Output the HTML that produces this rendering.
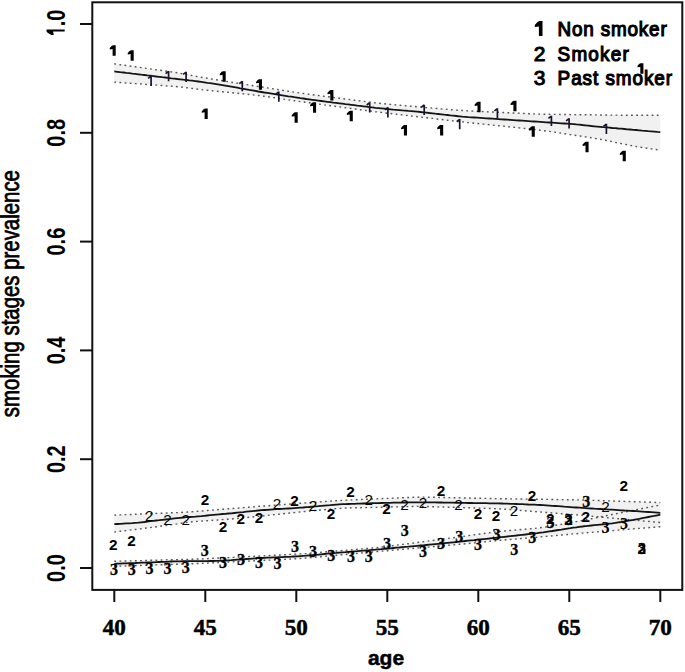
<!DOCTYPE html>
<html><head><meta charset="utf-8"><style>
html,body{margin:0;padding:0;background:#fff;}
svg{display:block;}
.s{font-family:"Liberation Sans",sans-serif;}
.k{stroke:#000;stroke-width:0.3px;paint-order:stroke fill;}
.k2{stroke:#000;stroke-width:0.8px;paint-order:stroke fill;}
.r{font-family:"Liberation Serif",serif;}
</style></head><body>
<svg width="685" height="672" viewBox="0 0 685 672">
<rect x="0" y="0" width="685" height="672" fill="#fff"/>

<polygon points="114.3,63.8 117.3,64.3 120.3,64.7 123.3,65.1 126.3,65.5 129.3,66.0 132.3,66.4 135.3,66.8 138.3,67.2 141.3,67.6 144.3,68.1 147.3,68.5 150.3,68.9 153.3,69.3 156.3,69.8 159.3,70.2 162.3,70.6 165.3,71.0 168.3,71.5 171.3,71.9 174.3,72.3 177.3,72.8 180.3,73.3 183.3,73.9 186.3,74.4 189.3,75.0 192.3,75.6 195.3,76.2 198.3,76.8 201.3,77.3 204.3,77.8 207.3,78.3 210.3,78.8 213.3,79.3 216.3,79.8 219.3,80.3 222.3,80.7 225.3,81.2 228.3,81.7 231.3,82.2 234.3,82.7 237.3,83.1 240.3,83.6 243.3,84.1 246.3,84.6 249.3,85.0 252.3,85.5 255.3,86.0 258.3,86.5 261.3,86.9 264.3,87.4 267.3,87.9 270.3,88.4 273.3,88.9 276.3,89.3 279.3,89.8 282.3,90.3 285.3,90.8 288.3,91.2 291.3,91.7 294.3,92.2 297.3,92.6 300.3,93.1 303.3,93.5 306.3,93.9 309.3,94.3 312.3,94.7 315.3,95.1 318.3,95.5 321.3,95.9 324.3,96.3 327.3,96.6 330.3,97.0 333.3,97.4 336.3,97.8 339.3,98.2 342.3,98.6 345.3,99.0 348.3,99.4 351.3,99.8 354.3,100.2 357.3,100.5 360.3,100.9 363.3,101.3 366.3,101.7 369.3,102.1 372.3,102.5 375.3,102.9 378.3,103.2 381.3,103.5 384.3,103.8 387.3,104.1 390.3,104.4 393.3,104.7 396.3,104.9 399.3,105.2 402.3,105.5 405.3,105.7 408.3,106.0 411.3,106.2 414.3,106.5 417.3,106.8 420.3,107.0 423.3,107.3 426.3,107.6 429.3,107.8 432.3,108.1 435.3,108.3 438.3,108.6 441.3,108.9 444.3,109.1 447.3,109.4 450.3,109.7 453.3,109.9 456.3,110.1 459.3,110.3 462.3,110.5 465.3,110.7 468.3,110.9 471.3,111.0 474.3,111.2 477.3,111.3 480.3,111.4 483.3,111.6 486.3,111.7 489.3,111.9 492.3,112.0 495.3,112.1 498.3,112.3 501.3,112.4 504.3,112.5 507.3,112.7 510.3,112.8 513.3,113.0 516.3,113.1 519.3,113.2 522.3,113.4 525.3,113.5 528.3,113.7 531.3,113.8 534.3,113.9 537.3,114.0 540.3,114.1 543.3,114.2 546.3,114.3 549.3,114.3 552.3,114.4 555.3,114.4 558.3,114.4 561.3,114.5 564.3,114.5 567.3,114.5 570.3,114.6 573.3,114.6 576.3,114.7 579.3,114.7 582.3,114.7 585.3,114.8 588.3,114.8 591.3,114.8 594.3,114.9 597.3,114.9 600.3,115.0 603.3,115.0 606.3,115.0 609.3,115.1 612.3,115.1 615.3,115.1 618.3,115.2 621.3,115.2 624.3,115.2 627.3,115.2 630.3,115.2 633.3,115.2 636.3,115.2 639.3,115.2 642.3,115.3 645.3,115.3 648.3,115.3 651.3,115.3 654.3,115.3 657.3,115.3 660.3,115.3 660.3,150.2 657.3,149.8 654.3,149.3 651.3,148.9 648.3,148.4 645.3,148.0 642.3,147.5 639.3,147.0 636.3,146.5 633.3,145.9 630.3,145.4 627.3,144.8 624.3,144.2 621.3,143.6 618.3,143.0 615.3,142.4 612.3,141.7 609.3,141.1 606.3,140.5 603.3,139.9 600.3,139.3 597.3,138.8 594.3,138.3 591.3,137.8 588.3,137.3 585.3,136.9 582.3,136.4 579.3,135.9 576.3,135.5 573.3,135.0 570.3,134.6 567.3,134.1 564.3,133.7 561.3,133.2 558.3,132.7 555.3,132.3 552.3,131.8 549.3,131.4 546.3,131.0 543.3,130.6 540.3,130.2 537.3,129.8 534.3,129.4 531.3,129.1 528.3,128.8 525.3,128.5 522.3,128.2 519.3,127.9 516.3,127.5 513.3,127.2 510.3,126.9 507.3,126.6 504.3,126.3 501.3,126.0 498.3,125.7 495.3,125.4 492.3,125.1 489.3,124.7 486.3,124.4 483.3,124.1 480.3,123.8 477.3,123.5 474.3,123.2 471.3,122.9 468.3,122.6 465.3,122.2 462.3,121.9 459.3,121.6 456.3,121.3 453.3,120.9 450.3,120.6 447.3,120.2 444.3,119.9 441.3,119.5 438.3,119.2 435.3,118.8 432.3,118.4 429.3,118.1 426.3,117.7 423.3,117.4 420.3,117.0 417.3,116.7 414.3,116.3 411.3,116.0 408.3,115.6 405.3,115.3 402.3,114.9 399.3,114.6 396.3,114.2 393.3,113.9 390.3,113.5 387.3,113.2 384.3,112.8 381.3,112.4 378.3,112.0 375.3,111.7 372.3,111.3 369.3,110.9 366.3,110.5 363.3,110.1 360.3,109.7 357.3,109.3 354.3,108.9 351.3,108.5 348.3,108.1 345.3,107.7 342.3,107.3 339.3,106.9 336.3,106.5 333.3,106.1 330.3,105.7 327.3,105.3 324.3,104.9 321.3,104.4 318.3,104.0 315.3,103.6 312.3,103.2 309.3,102.8 306.3,102.4 303.3,102.0 300.3,101.6 297.3,101.2 294.3,100.7 291.3,100.3 288.3,99.8 285.3,99.4 282.3,98.9 279.3,98.5 276.3,98.0 273.3,97.6 270.3,97.1 267.3,96.7 264.3,96.3 261.3,95.9 258.3,95.5 255.3,95.2 252.3,94.8 249.3,94.5 246.3,94.2 243.3,93.9 240.3,93.6 237.3,93.3 234.3,93.0 231.3,92.7 228.3,92.4 225.3,92.1 222.3,91.8 219.3,91.5 216.3,91.2 213.3,90.9 210.3,90.6 207.3,90.3 204.3,90.0 201.3,89.6 198.3,89.3 195.3,88.9 192.3,88.5 189.3,88.1 186.3,87.7 183.3,87.3 180.3,87.0 177.3,86.7 174.3,86.4 171.3,86.2 168.3,86.0 165.3,85.8 162.3,85.5 159.3,85.3 156.3,85.1 153.3,84.9 150.3,84.7 147.3,84.5 144.3,84.3 141.3,84.0 138.3,83.8 135.3,83.6 132.3,83.4 129.3,83.2 126.3,83.0 123.3,82.8 120.3,82.5 117.3,82.3 114.3,82.1" fill="#f1f1f1" stroke="none"/>
<polygon points="114.3,515.1 117.3,515.0 120.3,514.9 123.3,514.7 126.3,514.6 129.3,514.5 132.3,514.4 135.3,514.3 138.3,514.1 141.3,514.0 144.3,513.9 147.3,513.8 150.3,513.7 153.3,513.6 156.3,513.4 159.3,513.3 162.3,513.2 165.3,513.1 168.3,513.0 171.3,512.8 174.3,512.7 177.3,512.6 180.3,512.5 183.3,512.3 186.3,512.1 189.3,511.9 192.3,511.7 195.3,511.5 198.3,511.2 201.3,511.0 204.3,510.8 207.3,510.5 210.3,510.3 213.3,510.0 216.3,509.8 219.3,509.6 222.3,509.3 225.3,509.1 228.3,508.8 231.3,508.6 234.3,508.4 237.3,508.1 240.3,507.9 243.3,507.6 246.3,507.4 249.3,507.2 252.3,506.9 255.3,506.7 258.3,506.4 261.3,506.2 264.3,506.0 267.3,505.8 270.3,505.5 273.3,505.3 276.3,505.1 279.3,504.9 282.3,504.7 285.3,504.4 288.3,504.2 291.3,504.0 294.3,503.8 297.3,503.5 300.3,503.3 303.3,503.1 306.3,502.9 309.3,502.7 312.3,502.4 315.3,502.2 318.3,502.0 321.3,501.8 324.3,501.6 327.3,501.3 330.3,501.1 333.3,500.9 336.3,500.7 339.3,500.5 342.3,500.4 345.3,500.2 348.3,500.1 351.3,499.9 354.3,499.8 357.3,499.7 360.3,499.5 363.3,499.4 366.3,499.3 369.3,499.2 372.3,499.0 375.3,498.9 378.3,498.8 381.3,498.6 384.3,498.5 387.3,498.4 390.3,498.3 393.3,498.1 396.3,498.0 399.3,497.9 402.3,497.8 405.3,497.6 408.3,497.5 411.3,497.4 414.3,497.3 417.3,497.2 420.3,497.2 423.3,497.1 426.3,497.2 429.3,497.2 432.3,497.3 435.3,497.3 438.3,497.4 441.3,497.5 444.3,497.5 447.3,497.6 450.3,497.6 453.3,497.7 456.3,497.8 459.3,497.8 462.3,497.9 465.3,498.0 468.3,498.0 471.3,498.1 474.3,498.2 477.3,498.2 480.3,498.3 483.3,498.3 486.3,498.4 489.3,498.5 492.3,498.5 495.3,498.6 498.3,498.7 501.3,498.7 504.3,498.8 507.3,498.8 510.3,498.9 513.3,498.9 516.3,498.9 519.3,499.0 522.3,499.0 525.3,499.1 528.3,499.1 531.3,499.2 534.3,499.2 537.3,499.3 540.3,499.3 543.3,499.3 546.3,499.4 549.3,499.4 552.3,499.5 555.3,499.5 558.3,499.6 561.3,499.6 564.3,499.7 567.3,499.7 570.3,499.8 573.3,499.8 576.3,499.9 579.3,499.9 582.3,500.0 585.3,500.1 588.3,500.2 591.3,500.3 594.3,500.4 597.3,500.5 600.3,500.6 603.3,500.7 606.3,500.8 609.3,500.9 612.3,501.0 615.3,501.1 618.3,501.2 621.3,501.3 624.3,501.4 627.3,501.5 630.3,501.6 633.3,501.7 636.3,501.8 639.3,501.9 642.3,502.0 645.3,502.1 648.3,502.2 651.3,502.3 654.3,502.4 657.3,502.5 660.3,502.6 660.3,522.5 657.3,522.2 654.3,522.0 651.3,521.7 648.3,521.4 645.3,521.2 642.3,520.9 639.3,520.6 636.3,520.3 633.3,520.1 630.3,519.8 627.3,519.5 624.3,519.2 621.3,519.0 618.3,518.7 615.3,518.4 612.3,518.1 609.3,517.9 606.3,517.6 603.3,517.3 600.3,517.1 597.3,516.8 594.3,516.5 591.3,516.2 588.3,516.0 585.3,515.7 582.3,515.4 579.3,515.2 576.3,514.9 573.3,514.7 570.3,514.4 567.3,514.2 564.3,513.9 561.3,513.7 558.3,513.5 555.3,513.2 552.3,513.0 549.3,512.7 546.3,512.5 543.3,512.3 540.3,512.0 537.3,511.8 534.3,511.5 531.3,511.3 528.3,511.1 525.3,510.8 522.3,510.6 519.3,510.3 516.3,510.1 513.3,509.9 510.3,509.6 507.3,509.4 504.3,509.2 501.3,509.0 498.3,508.8 495.3,508.7 492.3,508.6 489.3,508.5 486.3,508.4 483.3,508.3 480.3,508.2 477.3,508.1 474.3,508.0 471.3,507.9 468.3,507.8 465.3,507.7 462.3,507.6 459.3,507.5 456.3,507.4 453.3,507.3 450.3,507.2 447.3,507.2 444.3,507.1 441.3,507.0 438.3,506.9 435.3,506.8 432.3,506.7 429.3,506.6 426.3,506.5 423.3,506.5 420.3,506.4 417.3,506.4 414.3,506.5 411.3,506.5 408.3,506.6 405.3,506.6 402.3,506.7 399.3,506.8 396.3,506.9 393.3,506.9 390.3,507.0 387.3,507.1 384.3,507.1 381.3,507.2 378.3,507.3 375.3,507.4 372.3,507.4 369.3,507.5 366.3,507.6 363.3,507.6 360.3,507.7 357.3,507.8 354.3,507.9 351.3,507.9 348.3,508.0 345.3,508.1 342.3,508.3 339.3,508.4 336.3,508.6 333.3,508.9 330.3,509.1 327.3,509.4 324.3,509.7 321.3,510.0 318.3,510.3 315.3,510.5 312.3,510.8 309.3,511.1 306.3,511.4 303.3,511.7 300.3,512.0 297.3,512.3 294.3,512.6 291.3,512.9 288.3,513.2 285.3,513.5 282.3,513.9 279.3,514.2 276.3,514.5 273.3,514.8 270.3,515.1 267.3,515.4 264.3,515.7 261.3,516.1 258.3,516.4 255.3,516.7 252.3,517.0 249.3,517.3 246.3,517.6 243.3,517.9 240.3,518.2 237.3,518.5 234.3,518.7 231.3,519.0 228.3,519.2 225.3,519.4 222.3,519.6 219.3,519.9 216.3,520.1 213.3,520.3 210.3,520.5 207.3,520.7 204.3,520.9 201.3,521.1 198.3,521.3 195.3,521.5 192.3,521.8 189.3,522.1 186.3,522.5 183.3,522.9 180.3,523.4 177.3,523.9 174.3,524.3 171.3,524.8 168.3,525.2 165.3,525.6 162.3,526.0 159.3,526.4 156.3,526.8 153.3,527.2 150.3,527.6 147.3,528.0 144.3,528.3 141.3,528.7 138.3,529.1 135.3,529.5 132.3,529.8 129.3,530.2 126.3,530.6 123.3,530.9 120.3,531.3 117.3,531.7 114.3,532.1" fill="#f1f1f1" stroke="none"/>
<polygon points="114.3,561.3 117.3,561.2 120.3,561.1 123.3,561.1 126.3,561.0 129.3,560.9 132.3,560.8 135.3,560.7 138.3,560.7 141.3,560.6 144.3,560.5 147.3,560.4 150.3,560.3 153.3,560.2 156.3,560.2 159.3,560.1 162.3,560.0 165.3,559.9 168.3,559.8 171.3,559.8 174.3,559.7 177.3,559.6 180.3,559.5 183.3,559.4 186.3,559.4 189.3,559.3 192.3,559.2 195.3,559.1 198.3,559.0 201.3,558.9 204.3,558.8 207.3,558.6 210.3,558.5 213.3,558.3 216.3,558.2 219.3,558.0 222.3,557.9 225.3,557.7 228.3,557.6 231.3,557.4 234.3,557.3 237.3,557.1 240.3,557.0 243.3,556.8 246.3,556.7 249.3,556.5 252.3,556.4 255.3,556.2 258.3,556.1 261.3,555.9 264.3,555.8 267.3,555.6 270.3,555.5 273.3,555.3 276.3,555.2 279.3,555.0 282.3,554.9 285.3,554.7 288.3,554.6 291.3,554.4 294.3,554.3 297.3,554.1 300.3,553.9 303.3,553.7 306.3,553.5 309.3,553.2 312.3,553.0 315.3,552.7 318.3,552.5 321.3,552.2 324.3,552.0 327.3,551.7 330.3,551.5 333.3,551.3 336.3,551.0 339.3,550.8 342.3,550.5 345.3,550.3 348.3,550.0 351.3,549.8 354.3,549.5 357.3,549.3 360.3,549.0 363.3,548.8 366.3,548.5 369.3,548.3 372.3,548.0 375.3,547.7 378.3,547.4 381.3,547.1 384.3,546.8 387.3,546.4 390.3,546.0 393.3,545.6 396.3,545.2 399.3,544.8 402.3,544.4 405.3,544.0 408.3,543.7 411.3,543.3 414.3,542.9 417.3,542.5 420.3,542.1 423.3,541.7 426.3,541.3 429.3,540.9 432.3,540.5 435.3,540.1 438.3,539.7 441.3,539.3 444.3,538.9 447.3,538.5 450.3,538.1 453.3,537.7 456.3,537.3 459.3,536.9 462.3,536.5 465.3,536.1 468.3,535.7 471.3,535.2 474.3,534.8 477.3,534.4 480.3,534.0 483.3,533.6 486.3,533.2 489.3,532.8 492.3,532.4 495.3,532.0 498.3,531.6 501.3,531.3 504.3,531.0 507.3,530.7 510.3,530.5 513.3,530.2 516.3,530.0 519.3,529.7 522.3,529.5 525.3,529.2 528.3,529.0 531.3,528.7 534.3,528.4 537.3,528.1 540.3,527.7 543.3,527.3 546.3,526.9 549.3,526.4 552.3,525.8 555.3,525.3 558.3,524.8 561.3,524.3 564.3,523.7 567.3,523.2 570.3,522.7 573.3,522.2 576.3,521.6 579.3,521.1 582.3,520.5 585.3,519.9 588.3,519.3 591.3,518.7 594.3,518.1 597.3,517.5 600.3,516.9 603.3,516.3 606.3,515.7 609.3,515.1 612.3,514.5 615.3,513.9 618.3,513.3 621.3,512.7 624.3,512.1 627.3,511.5 630.3,510.9 633.3,510.3 636.3,509.7 639.3,509.1 642.3,508.5 645.3,507.9 648.3,507.3 651.3,506.7 654.3,506.2 657.3,505.6 660.3,505.0 660.3,526.7 657.3,526.9 654.3,527.2 651.3,527.4 648.3,527.7 645.3,527.9 642.3,528.2 639.3,528.4 636.3,528.7 633.3,528.9 630.3,529.2 627.3,529.4 624.3,529.6 621.3,529.9 618.3,530.1 615.3,530.4 612.3,530.6 609.3,530.9 606.3,531.1 603.3,531.4 600.3,531.6 597.3,531.9 594.3,532.1 591.3,532.4 588.3,532.6 585.3,532.9 582.3,533.1 579.3,533.4 576.3,533.7 573.3,533.9 570.3,534.2 567.3,534.5 564.3,534.8 561.3,535.0 558.3,535.3 555.3,535.6 552.3,535.9 549.3,536.1 546.3,536.4 543.3,536.7 540.3,536.9 537.3,537.2 534.3,537.5 531.3,537.7 528.3,538.0 525.3,538.2 522.3,538.5 519.3,538.7 516.3,539.0 513.3,539.2 510.3,539.5 507.3,539.7 504.3,540.0 501.3,540.2 498.3,540.5 495.3,540.8 492.3,541.1 489.3,541.4 486.3,541.7 483.3,542.0 480.3,542.3 477.3,542.6 474.3,542.9 471.3,543.2 468.3,543.5 465.3,543.8 462.3,544.1 459.3,544.3 456.3,544.6 453.3,544.9 450.3,545.1 447.3,545.4 444.3,545.7 441.3,545.9 438.3,546.2 435.3,546.5 432.3,546.7 429.3,547.0 426.3,547.2 423.3,547.5 420.3,547.8 417.3,548.0 414.3,548.3 411.3,548.6 408.3,548.8 405.3,549.1 402.3,549.3 399.3,549.6 396.3,549.9 393.3,550.1 390.3,550.4 387.3,550.7 384.3,550.9 381.3,551.2 378.3,551.5 375.3,551.7 372.3,552.0 369.3,552.3 366.3,552.6 363.3,552.8 360.3,553.1 357.3,553.4 354.3,553.6 351.3,553.9 348.3,554.2 345.3,554.5 342.3,554.7 339.3,555.0 336.3,555.3 333.3,555.6 330.3,555.8 327.3,556.1 324.3,556.4 321.3,556.7 318.3,556.9 315.3,557.2 312.3,557.5 309.3,557.8 306.3,558.0 303.3,558.2 300.3,558.5 297.3,558.7 294.3,558.9 291.3,559.0 288.3,559.2 285.3,559.3 282.3,559.5 279.3,559.6 276.3,559.8 273.3,559.9 270.3,560.1 267.3,560.2 264.3,560.3 261.3,560.5 258.3,560.6 255.3,560.8 252.3,560.9 249.3,561.1 246.3,561.2 243.3,561.4 240.3,561.5 237.3,561.7 234.3,561.8 231.3,562.0 228.3,562.1 225.3,562.3 222.3,562.4 219.3,562.6 216.3,562.7 213.3,562.8 210.3,563.0 207.3,563.1 204.3,563.3 201.3,563.4 198.3,563.5 195.3,563.6 192.3,563.7 189.3,563.8 186.3,563.9 183.3,564.0 180.3,564.1 177.3,564.2 174.3,564.3 171.3,564.4 168.3,564.5 165.3,564.6 162.3,564.7 159.3,564.8 156.3,564.9 153.3,565.0 150.3,565.1 147.3,565.2 144.3,565.3 141.3,565.4 138.3,565.5 135.3,565.6 132.3,565.7 129.3,565.8 126.3,565.9 123.3,566.0 120.3,566.1 117.3,566.2 114.3,566.3" fill="#f1f1f1" stroke="none"/>
<polyline points="114.3,63.8 117.3,64.3 120.3,64.7 123.3,65.1 126.3,65.5 129.3,66.0 132.3,66.4 135.3,66.8 138.3,67.2 141.3,67.6 144.3,68.1 147.3,68.5 150.3,68.9 153.3,69.3 156.3,69.8 159.3,70.2 162.3,70.6 165.3,71.0 168.3,71.5 171.3,71.9 174.3,72.3 177.3,72.8 180.3,73.3 183.3,73.9 186.3,74.4 189.3,75.0 192.3,75.6 195.3,76.2 198.3,76.8 201.3,77.3 204.3,77.8 207.3,78.3 210.3,78.8 213.3,79.3 216.3,79.8 219.3,80.3 222.3,80.7 225.3,81.2 228.3,81.7 231.3,82.2 234.3,82.7 237.3,83.1 240.3,83.6 243.3,84.1 246.3,84.6 249.3,85.0 252.3,85.5 255.3,86.0 258.3,86.5 261.3,86.9 264.3,87.4 267.3,87.9 270.3,88.4 273.3,88.9 276.3,89.3 279.3,89.8 282.3,90.3 285.3,90.8 288.3,91.2 291.3,91.7 294.3,92.2 297.3,92.6 300.3,93.1 303.3,93.5 306.3,93.9 309.3,94.3 312.3,94.7 315.3,95.1 318.3,95.5 321.3,95.9 324.3,96.3 327.3,96.6 330.3,97.0 333.3,97.4 336.3,97.8 339.3,98.2 342.3,98.6 345.3,99.0 348.3,99.4 351.3,99.8 354.3,100.2 357.3,100.5 360.3,100.9 363.3,101.3 366.3,101.7 369.3,102.1 372.3,102.5 375.3,102.9 378.3,103.2 381.3,103.5 384.3,103.8 387.3,104.1 390.3,104.4 393.3,104.7 396.3,104.9 399.3,105.2 402.3,105.5 405.3,105.7 408.3,106.0 411.3,106.2 414.3,106.5 417.3,106.8 420.3,107.0 423.3,107.3 426.3,107.6 429.3,107.8 432.3,108.1 435.3,108.3 438.3,108.6 441.3,108.9 444.3,109.1 447.3,109.4 450.3,109.7 453.3,109.9 456.3,110.1 459.3,110.3 462.3,110.5 465.3,110.7 468.3,110.9 471.3,111.0 474.3,111.2 477.3,111.3 480.3,111.4 483.3,111.6 486.3,111.7 489.3,111.9 492.3,112.0 495.3,112.1 498.3,112.3 501.3,112.4 504.3,112.5 507.3,112.7 510.3,112.8 513.3,113.0 516.3,113.1 519.3,113.2 522.3,113.4 525.3,113.5 528.3,113.7 531.3,113.8 534.3,113.9 537.3,114.0 540.3,114.1 543.3,114.2 546.3,114.3 549.3,114.3 552.3,114.4 555.3,114.4 558.3,114.4 561.3,114.5 564.3,114.5 567.3,114.5 570.3,114.6 573.3,114.6 576.3,114.7 579.3,114.7 582.3,114.7 585.3,114.8 588.3,114.8 591.3,114.8 594.3,114.9 597.3,114.9 600.3,115.0 603.3,115.0 606.3,115.0 609.3,115.1 612.3,115.1 615.3,115.1 618.3,115.2 621.3,115.2 624.3,115.2 627.3,115.2 630.3,115.2 633.3,115.2 636.3,115.2 639.3,115.2 642.3,115.3 645.3,115.3 648.3,115.3 651.3,115.3 654.3,115.3 657.3,115.3 660.3,115.3" fill="none" stroke="#555" stroke-width="1.4" stroke-dasharray="1.8 3.35"/>
<polyline points="114.3,82.1 117.3,82.3 120.3,82.5 123.3,82.8 126.3,83.0 129.3,83.2 132.3,83.4 135.3,83.6 138.3,83.8 141.3,84.0 144.3,84.3 147.3,84.5 150.3,84.7 153.3,84.9 156.3,85.1 159.3,85.3 162.3,85.5 165.3,85.8 168.3,86.0 171.3,86.2 174.3,86.4 177.3,86.7 180.3,87.0 183.3,87.3 186.3,87.7 189.3,88.1 192.3,88.5 195.3,88.9 198.3,89.3 201.3,89.6 204.3,90.0 207.3,90.3 210.3,90.6 213.3,90.9 216.3,91.2 219.3,91.5 222.3,91.8 225.3,92.1 228.3,92.4 231.3,92.7 234.3,93.0 237.3,93.3 240.3,93.6 243.3,93.9 246.3,94.2 249.3,94.5 252.3,94.8 255.3,95.2 258.3,95.5 261.3,95.9 264.3,96.3 267.3,96.7 270.3,97.1 273.3,97.6 276.3,98.0 279.3,98.5 282.3,98.9 285.3,99.4 288.3,99.8 291.3,100.3 294.3,100.7 297.3,101.2 300.3,101.6 303.3,102.0 306.3,102.4 309.3,102.8 312.3,103.2 315.3,103.6 318.3,104.0 321.3,104.4 324.3,104.9 327.3,105.3 330.3,105.7 333.3,106.1 336.3,106.5 339.3,106.9 342.3,107.3 345.3,107.7 348.3,108.1 351.3,108.5 354.3,108.9 357.3,109.3 360.3,109.7 363.3,110.1 366.3,110.5 369.3,110.9 372.3,111.3 375.3,111.7 378.3,112.0 381.3,112.4 384.3,112.8 387.3,113.2 390.3,113.5 393.3,113.9 396.3,114.2 399.3,114.6 402.3,114.9 405.3,115.3 408.3,115.6 411.3,116.0 414.3,116.3 417.3,116.7 420.3,117.0 423.3,117.4 426.3,117.7 429.3,118.1 432.3,118.4 435.3,118.8 438.3,119.2 441.3,119.5 444.3,119.9 447.3,120.2 450.3,120.6 453.3,120.9 456.3,121.3 459.3,121.6 462.3,121.9 465.3,122.2 468.3,122.6 471.3,122.9 474.3,123.2 477.3,123.5 480.3,123.8 483.3,124.1 486.3,124.4 489.3,124.7 492.3,125.1 495.3,125.4 498.3,125.7 501.3,126.0 504.3,126.3 507.3,126.6 510.3,126.9 513.3,127.2 516.3,127.5 519.3,127.9 522.3,128.2 525.3,128.5 528.3,128.8 531.3,129.1 534.3,129.4 537.3,129.8 540.3,130.2 543.3,130.6 546.3,131.0 549.3,131.4 552.3,131.8 555.3,132.3 558.3,132.7 561.3,133.2 564.3,133.7 567.3,134.1 570.3,134.6 573.3,135.0 576.3,135.5 579.3,135.9 582.3,136.4 585.3,136.9 588.3,137.3 591.3,137.8 594.3,138.3 597.3,138.8 600.3,139.3 603.3,139.9 606.3,140.5 609.3,141.1 612.3,141.7 615.3,142.4 618.3,143.0 621.3,143.6 624.3,144.2 627.3,144.8 630.3,145.4 633.3,145.9 636.3,146.5 639.3,147.0 642.3,147.5 645.3,148.0 648.3,148.4 651.3,148.9 654.3,149.3 657.3,149.8 660.3,150.2" fill="none" stroke="#555" stroke-width="1.4" stroke-dasharray="1.8 3.35"/>
<polyline points="114.3,515.1 117.3,515.0 120.3,514.9 123.3,514.7 126.3,514.6 129.3,514.5 132.3,514.4 135.3,514.3 138.3,514.1 141.3,514.0 144.3,513.9 147.3,513.8 150.3,513.7 153.3,513.6 156.3,513.4 159.3,513.3 162.3,513.2 165.3,513.1 168.3,513.0 171.3,512.8 174.3,512.7 177.3,512.6 180.3,512.5 183.3,512.3 186.3,512.1 189.3,511.9 192.3,511.7 195.3,511.5 198.3,511.2 201.3,511.0 204.3,510.8 207.3,510.5 210.3,510.3 213.3,510.0 216.3,509.8 219.3,509.6 222.3,509.3 225.3,509.1 228.3,508.8 231.3,508.6 234.3,508.4 237.3,508.1 240.3,507.9 243.3,507.6 246.3,507.4 249.3,507.2 252.3,506.9 255.3,506.7 258.3,506.4 261.3,506.2 264.3,506.0 267.3,505.8 270.3,505.5 273.3,505.3 276.3,505.1 279.3,504.9 282.3,504.7 285.3,504.4 288.3,504.2 291.3,504.0 294.3,503.8 297.3,503.5 300.3,503.3 303.3,503.1 306.3,502.9 309.3,502.7 312.3,502.4 315.3,502.2 318.3,502.0 321.3,501.8 324.3,501.6 327.3,501.3 330.3,501.1 333.3,500.9 336.3,500.7 339.3,500.5 342.3,500.4 345.3,500.2 348.3,500.1 351.3,499.9 354.3,499.8 357.3,499.7 360.3,499.5 363.3,499.4 366.3,499.3 369.3,499.2 372.3,499.0 375.3,498.9 378.3,498.8 381.3,498.6 384.3,498.5 387.3,498.4 390.3,498.3 393.3,498.1 396.3,498.0 399.3,497.9 402.3,497.8 405.3,497.6 408.3,497.5 411.3,497.4 414.3,497.3 417.3,497.2 420.3,497.2 423.3,497.1 426.3,497.2 429.3,497.2 432.3,497.3 435.3,497.3 438.3,497.4 441.3,497.5 444.3,497.5 447.3,497.6 450.3,497.6 453.3,497.7 456.3,497.8 459.3,497.8 462.3,497.9 465.3,498.0 468.3,498.0 471.3,498.1 474.3,498.2 477.3,498.2 480.3,498.3 483.3,498.3 486.3,498.4 489.3,498.5 492.3,498.5 495.3,498.6 498.3,498.7 501.3,498.7 504.3,498.8 507.3,498.8 510.3,498.9 513.3,498.9 516.3,498.9 519.3,499.0 522.3,499.0 525.3,499.1 528.3,499.1 531.3,499.2 534.3,499.2 537.3,499.3 540.3,499.3 543.3,499.3 546.3,499.4 549.3,499.4 552.3,499.5 555.3,499.5 558.3,499.6 561.3,499.6 564.3,499.7 567.3,499.7 570.3,499.8 573.3,499.8 576.3,499.9 579.3,499.9 582.3,500.0 585.3,500.1 588.3,500.2 591.3,500.3 594.3,500.4 597.3,500.5 600.3,500.6 603.3,500.7 606.3,500.8 609.3,500.9 612.3,501.0 615.3,501.1 618.3,501.2 621.3,501.3 624.3,501.4 627.3,501.5 630.3,501.6 633.3,501.7 636.3,501.8 639.3,501.9 642.3,502.0 645.3,502.1 648.3,502.2 651.3,502.3 654.3,502.4 657.3,502.5 660.3,502.6" fill="none" stroke="#555" stroke-width="1.4" stroke-dasharray="1.8 3.35"/>
<polyline points="114.3,532.1 117.3,531.7 120.3,531.3 123.3,530.9 126.3,530.6 129.3,530.2 132.3,529.8 135.3,529.5 138.3,529.1 141.3,528.7 144.3,528.3 147.3,528.0 150.3,527.6 153.3,527.2 156.3,526.8 159.3,526.4 162.3,526.0 165.3,525.6 168.3,525.2 171.3,524.8 174.3,524.3 177.3,523.9 180.3,523.4 183.3,522.9 186.3,522.5 189.3,522.1 192.3,521.8 195.3,521.5 198.3,521.3 201.3,521.1 204.3,520.9 207.3,520.7 210.3,520.5 213.3,520.3 216.3,520.1 219.3,519.9 222.3,519.6 225.3,519.4 228.3,519.2 231.3,519.0 234.3,518.7 237.3,518.5 240.3,518.2 243.3,517.9 246.3,517.6 249.3,517.3 252.3,517.0 255.3,516.7 258.3,516.4 261.3,516.1 264.3,515.7 267.3,515.4 270.3,515.1 273.3,514.8 276.3,514.5 279.3,514.2 282.3,513.9 285.3,513.5 288.3,513.2 291.3,512.9 294.3,512.6 297.3,512.3 300.3,512.0 303.3,511.7 306.3,511.4 309.3,511.1 312.3,510.8 315.3,510.5 318.3,510.3 321.3,510.0 324.3,509.7 327.3,509.4 330.3,509.1 333.3,508.9 336.3,508.6 339.3,508.4 342.3,508.3 345.3,508.1 348.3,508.0 351.3,507.9 354.3,507.9 357.3,507.8 360.3,507.7 363.3,507.6 366.3,507.6 369.3,507.5 372.3,507.4 375.3,507.4 378.3,507.3 381.3,507.2 384.3,507.1 387.3,507.1 390.3,507.0 393.3,506.9 396.3,506.9 399.3,506.8 402.3,506.7 405.3,506.6 408.3,506.6 411.3,506.5 414.3,506.5 417.3,506.4 420.3,506.4 423.3,506.5 426.3,506.5 429.3,506.6 432.3,506.7 435.3,506.8 438.3,506.9 441.3,507.0 444.3,507.1 447.3,507.2 450.3,507.2 453.3,507.3 456.3,507.4 459.3,507.5 462.3,507.6 465.3,507.7 468.3,507.8 471.3,507.9 474.3,508.0 477.3,508.1 480.3,508.2 483.3,508.3 486.3,508.4 489.3,508.5 492.3,508.6 495.3,508.7 498.3,508.8 501.3,509.0 504.3,509.2 507.3,509.4 510.3,509.6 513.3,509.9 516.3,510.1 519.3,510.3 522.3,510.6 525.3,510.8 528.3,511.1 531.3,511.3 534.3,511.5 537.3,511.8 540.3,512.0 543.3,512.3 546.3,512.5 549.3,512.7 552.3,513.0 555.3,513.2 558.3,513.5 561.3,513.7 564.3,513.9 567.3,514.2 570.3,514.4 573.3,514.7 576.3,514.9 579.3,515.2 582.3,515.4 585.3,515.7 588.3,516.0 591.3,516.2 594.3,516.5 597.3,516.8 600.3,517.1 603.3,517.3 606.3,517.6 609.3,517.9 612.3,518.1 615.3,518.4 618.3,518.7 621.3,519.0 624.3,519.2 627.3,519.5 630.3,519.8 633.3,520.1 636.3,520.3 639.3,520.6 642.3,520.9 645.3,521.2 648.3,521.4 651.3,521.7 654.3,522.0 657.3,522.2 660.3,522.5" fill="none" stroke="#555" stroke-width="1.4" stroke-dasharray="1.8 3.35"/>
<polyline points="114.3,561.3 117.3,561.2 120.3,561.1 123.3,561.1 126.3,561.0 129.3,560.9 132.3,560.8 135.3,560.7 138.3,560.7 141.3,560.6 144.3,560.5 147.3,560.4 150.3,560.3 153.3,560.2 156.3,560.2 159.3,560.1 162.3,560.0 165.3,559.9 168.3,559.8 171.3,559.8 174.3,559.7 177.3,559.6 180.3,559.5 183.3,559.4 186.3,559.4 189.3,559.3 192.3,559.2 195.3,559.1 198.3,559.0 201.3,558.9 204.3,558.8 207.3,558.6 210.3,558.5 213.3,558.3 216.3,558.2 219.3,558.0 222.3,557.9 225.3,557.7 228.3,557.6 231.3,557.4 234.3,557.3 237.3,557.1 240.3,557.0 243.3,556.8 246.3,556.7 249.3,556.5 252.3,556.4 255.3,556.2 258.3,556.1 261.3,555.9 264.3,555.8 267.3,555.6 270.3,555.5 273.3,555.3 276.3,555.2 279.3,555.0 282.3,554.9 285.3,554.7 288.3,554.6 291.3,554.4 294.3,554.3 297.3,554.1 300.3,553.9 303.3,553.7 306.3,553.5 309.3,553.2 312.3,553.0 315.3,552.7 318.3,552.5 321.3,552.2 324.3,552.0 327.3,551.7 330.3,551.5 333.3,551.3 336.3,551.0 339.3,550.8 342.3,550.5 345.3,550.3 348.3,550.0 351.3,549.8 354.3,549.5 357.3,549.3 360.3,549.0 363.3,548.8 366.3,548.5 369.3,548.3 372.3,548.0 375.3,547.7 378.3,547.4 381.3,547.1 384.3,546.8 387.3,546.4 390.3,546.0 393.3,545.6 396.3,545.2 399.3,544.8 402.3,544.4 405.3,544.0 408.3,543.7 411.3,543.3 414.3,542.9 417.3,542.5 420.3,542.1 423.3,541.7 426.3,541.3 429.3,540.9 432.3,540.5 435.3,540.1 438.3,539.7 441.3,539.3 444.3,538.9 447.3,538.5 450.3,538.1 453.3,537.7 456.3,537.3 459.3,536.9 462.3,536.5 465.3,536.1 468.3,535.7 471.3,535.2 474.3,534.8 477.3,534.4 480.3,534.0 483.3,533.6 486.3,533.2 489.3,532.8 492.3,532.4 495.3,532.0 498.3,531.6 501.3,531.3 504.3,531.0 507.3,530.7 510.3,530.5 513.3,530.2 516.3,530.0 519.3,529.7 522.3,529.5 525.3,529.2 528.3,529.0 531.3,528.7 534.3,528.4 537.3,528.1 540.3,527.7 543.3,527.3 546.3,526.9 549.3,526.4 552.3,525.8 555.3,525.3 558.3,524.8 561.3,524.3 564.3,523.7 567.3,523.2 570.3,522.7 573.3,522.2 576.3,521.6 579.3,521.1 582.3,520.5 585.3,519.9 588.3,519.3 591.3,518.7 594.3,518.1 597.3,517.5 600.3,516.9 603.3,516.3 606.3,515.7 609.3,515.1 612.3,514.5 615.3,513.9 618.3,513.3 621.3,512.7 624.3,512.1 627.3,511.5 630.3,510.9 633.3,510.3 636.3,509.7 639.3,509.1 642.3,508.5 645.3,507.9 648.3,507.3 651.3,506.7 654.3,506.2 657.3,505.6 660.3,505.0" fill="none" stroke="#555" stroke-width="1.4" stroke-dasharray="1.8 3.35"/>
<polyline points="114.3,566.3 117.3,566.2 120.3,566.1 123.3,566.0 126.3,565.9 129.3,565.8 132.3,565.7 135.3,565.6 138.3,565.5 141.3,565.4 144.3,565.3 147.3,565.2 150.3,565.1 153.3,565.0 156.3,564.9 159.3,564.8 162.3,564.7 165.3,564.6 168.3,564.5 171.3,564.4 174.3,564.3 177.3,564.2 180.3,564.1 183.3,564.0 186.3,563.9 189.3,563.8 192.3,563.7 195.3,563.6 198.3,563.5 201.3,563.4 204.3,563.3 207.3,563.1 210.3,563.0 213.3,562.8 216.3,562.7 219.3,562.6 222.3,562.4 225.3,562.3 228.3,562.1 231.3,562.0 234.3,561.8 237.3,561.7 240.3,561.5 243.3,561.4 246.3,561.2 249.3,561.1 252.3,560.9 255.3,560.8 258.3,560.6 261.3,560.5 264.3,560.3 267.3,560.2 270.3,560.1 273.3,559.9 276.3,559.8 279.3,559.6 282.3,559.5 285.3,559.3 288.3,559.2 291.3,559.0 294.3,558.9 297.3,558.7 300.3,558.5 303.3,558.2 306.3,558.0 309.3,557.8 312.3,557.5 315.3,557.2 318.3,556.9 321.3,556.7 324.3,556.4 327.3,556.1 330.3,555.8 333.3,555.6 336.3,555.3 339.3,555.0 342.3,554.7 345.3,554.5 348.3,554.2 351.3,553.9 354.3,553.6 357.3,553.4 360.3,553.1 363.3,552.8 366.3,552.6 369.3,552.3 372.3,552.0 375.3,551.7 378.3,551.5 381.3,551.2 384.3,550.9 387.3,550.7 390.3,550.4 393.3,550.1 396.3,549.9 399.3,549.6 402.3,549.3 405.3,549.1 408.3,548.8 411.3,548.6 414.3,548.3 417.3,548.0 420.3,547.8 423.3,547.5 426.3,547.2 429.3,547.0 432.3,546.7 435.3,546.5 438.3,546.2 441.3,545.9 444.3,545.7 447.3,545.4 450.3,545.1 453.3,544.9 456.3,544.6 459.3,544.3 462.3,544.1 465.3,543.8 468.3,543.5 471.3,543.2 474.3,542.9 477.3,542.6 480.3,542.3 483.3,542.0 486.3,541.7 489.3,541.4 492.3,541.1 495.3,540.8 498.3,540.5 501.3,540.2 504.3,540.0 507.3,539.7 510.3,539.5 513.3,539.2 516.3,539.0 519.3,538.7 522.3,538.5 525.3,538.2 528.3,538.0 531.3,537.7 534.3,537.5 537.3,537.2 540.3,536.9 543.3,536.7 546.3,536.4 549.3,536.1 552.3,535.9 555.3,535.6 558.3,535.3 561.3,535.0 564.3,534.8 567.3,534.5 570.3,534.2 573.3,533.9 576.3,533.7 579.3,533.4 582.3,533.1 585.3,532.9 588.3,532.6 591.3,532.4 594.3,532.1 597.3,531.9 600.3,531.6 603.3,531.4 606.3,531.1 609.3,530.9 612.3,530.6 615.3,530.4 618.3,530.1 621.3,529.9 624.3,529.6 627.3,529.4 630.3,529.2 633.3,528.9 636.3,528.7 639.3,528.4 642.3,528.2 645.3,527.9 648.3,527.7 651.3,527.4 654.3,527.2 657.3,526.9 660.3,526.7" fill="none" stroke="#555" stroke-width="1.4" stroke-dasharray="1.8 3.35"/>
<polyline points="114.3,71.4 117.3,71.8 120.3,72.2 123.3,72.5 126.3,72.9 129.3,73.2 132.3,73.6 135.3,73.9 138.3,74.3 141.3,74.7 144.3,75.0 147.3,75.4 150.3,75.7 153.3,76.1 156.3,76.5 159.3,76.8 162.3,77.2 165.3,77.5 168.3,77.9 171.3,78.3 174.3,78.6 177.3,79.0 180.3,79.3 183.3,79.7 186.3,80.0 189.3,80.4 192.3,80.7 195.3,81.1 198.3,81.5 201.3,81.9 204.3,82.3 207.3,82.8 210.3,83.2 213.3,83.7 216.3,84.2 219.3,84.7 222.3,85.2 225.3,85.7 228.3,86.2 231.3,86.7 234.3,87.2 237.3,87.7 240.3,88.3 243.3,88.8 246.3,89.3 249.3,89.9 252.3,90.4 255.3,90.9 258.3,91.5 261.3,92.0 264.3,92.5 267.3,92.9 270.3,93.4 273.3,93.9 276.3,94.4 279.3,94.8 282.3,95.3 285.3,95.8 288.3,96.3 291.3,96.7 294.3,97.2 297.3,97.6 300.3,98.1 303.3,98.5 306.3,99.0 309.3,99.4 312.3,99.8 315.3,100.2 318.3,100.6 321.3,101.0 324.3,101.4 327.3,101.8 330.3,102.2 333.3,102.6 336.3,102.9 339.3,103.3 342.3,103.7 345.3,104.1 348.3,104.4 351.3,104.8 354.3,105.2 357.3,105.6 360.3,105.9 363.3,106.3 366.3,106.7 369.3,107.1 372.3,107.4 375.3,107.8 378.3,108.1 381.3,108.4 384.3,108.7 387.3,109.0 390.3,109.3 393.3,109.6 396.3,109.8 399.3,110.1 402.3,110.4 405.3,110.6 408.3,110.9 411.3,111.1 414.3,111.4 417.3,111.7 420.3,112.0 423.3,112.3 426.3,112.6 429.3,113.0 432.3,113.3 435.3,113.7 438.3,114.0 441.3,114.3 444.3,114.7 447.3,115.0 450.3,115.4 453.3,115.7 456.3,116.0 459.3,116.3 462.3,116.6 465.3,116.8 468.3,117.1 471.3,117.3 474.3,117.5 477.3,117.7 480.3,117.9 483.3,118.1 486.3,118.3 489.3,118.5 492.3,118.7 495.3,118.9 498.3,119.1 501.3,119.3 504.3,119.5 507.3,119.7 510.3,119.9 513.3,120.1 516.3,120.3 519.3,120.5 522.3,120.7 525.3,120.9 528.3,121.1 531.3,121.3 534.3,121.5 537.3,121.7 540.3,121.9 543.3,122.1 546.3,122.3 549.3,122.5 552.3,122.7 555.3,122.9 558.3,123.1 561.3,123.3 564.3,123.5 567.3,123.7 570.3,123.9 573.3,124.1 576.3,124.4 579.3,124.6 582.3,125.0 585.3,125.3 588.3,125.6 591.3,126.0 594.3,126.3 597.3,126.6 600.3,126.9 603.3,127.2 606.3,127.4 609.3,127.7 612.3,128.0 615.3,128.2 618.3,128.5 621.3,128.7 624.3,129.0 627.3,129.3 630.3,129.5 633.3,129.8 636.3,130.0 639.3,130.3 642.3,130.6 645.3,130.8 648.3,131.1 651.3,131.3 654.3,131.6 657.3,131.9 660.3,132.1" fill="none" stroke="#141414" stroke-width="1.8"/>
<polyline points="114.3,524.2 117.3,524.0 120.3,523.8 123.3,523.6 126.3,523.4 129.3,523.3 132.3,523.1 135.3,522.8 138.3,522.6 141.3,522.3 144.3,522.0 147.3,521.6 150.3,521.2 153.3,520.9 156.3,520.5 159.3,520.2 162.3,519.8 165.3,519.5 168.3,519.1 171.3,518.8 174.3,518.4 177.3,518.1 180.3,517.8 183.3,517.5 186.3,517.2 189.3,517.0 192.3,516.8 195.3,516.6 198.3,516.3 201.3,516.1 204.3,515.8 207.3,515.5 210.3,515.2 213.3,514.9 216.3,514.6 219.3,514.3 222.3,514.0 225.3,513.8 228.3,513.5 231.3,513.3 234.3,513.0 237.3,512.7 240.3,512.4 243.3,512.1 246.3,511.7 249.3,511.4 252.3,511.1 255.3,510.8 258.3,510.5 261.3,510.2 264.3,510.0 267.3,509.8 270.3,509.6 273.3,509.4 276.3,509.2 279.3,509.0 282.3,508.9 285.3,508.7 288.3,508.5 291.3,508.3 294.3,508.1 297.3,507.9 300.3,507.7 303.3,507.5 306.3,507.2 309.3,507.0 312.3,506.7 315.3,506.4 318.3,506.2 321.3,505.9 324.3,505.6 327.3,505.3 330.3,505.1 333.3,504.8 336.3,504.6 339.3,504.4 342.3,504.2 345.3,504.1 348.3,504.0 351.3,503.9 354.3,503.8 357.3,503.7 360.3,503.6 363.3,503.5 366.3,503.4 369.3,503.3 372.3,503.2 375.3,503.1 378.3,503.1 381.3,503.0 384.3,502.9 387.3,502.9 390.3,502.8 393.3,502.7 396.3,502.7 399.3,502.6 402.3,502.6 405.3,502.5 408.3,502.4 411.3,502.4 414.3,502.3 417.3,502.3 420.3,502.3 423.3,502.3 426.3,502.3 429.3,502.3 432.3,502.4 435.3,502.4 438.3,502.5 441.3,502.5 444.3,502.6 447.3,502.6 450.3,502.7 453.3,502.7 456.3,502.8 459.3,502.8 462.3,502.9 465.3,502.9 468.3,503.0 471.3,503.0 474.3,503.1 477.3,503.1 480.3,503.1 483.3,503.2 486.3,503.2 489.3,503.3 492.3,503.3 495.3,503.4 498.3,503.4 501.3,503.5 504.3,503.6 507.3,503.7 510.3,503.8 513.3,503.9 516.3,504.0 519.3,504.1 522.3,504.2 525.3,504.3 528.3,504.5 531.3,504.6 534.3,504.7 537.3,504.8 540.3,505.0 543.3,505.2 546.3,505.4 549.3,505.6 552.3,505.8 555.3,506.0 558.3,506.2 561.3,506.4 564.3,506.7 567.3,506.9 570.3,507.1 573.3,507.3 576.3,507.5 579.3,507.7 582.3,507.9 585.3,508.1 588.3,508.3 591.3,508.5 594.3,508.7 597.3,508.8 600.3,509.0 603.3,509.2 606.3,509.4 609.3,509.6 612.3,509.7 615.3,509.9 618.3,510.1 621.3,510.3 624.3,510.5 627.3,510.6 630.3,510.8 633.3,511.0 636.3,511.2 639.3,511.4 642.3,511.6 645.3,511.8 648.3,512.0 651.3,512.2 654.3,512.4 657.3,512.6 660.3,512.8" fill="none" stroke="#141414" stroke-width="1.8"/>
<polyline points="114.3,563.8 117.3,563.7 120.3,563.6 123.3,563.4 126.3,563.3 129.3,563.2 132.3,563.1 135.3,563.0 138.3,562.8 141.3,562.7 144.3,562.6 147.3,562.5 150.3,562.4 153.3,562.3 156.3,562.1 159.3,562.0 162.3,561.9 165.3,561.8 168.3,561.7 171.3,561.5 174.3,561.4 177.3,561.4 180.3,561.3 183.3,561.2 186.3,561.2 189.3,561.2 192.3,561.1 195.3,561.1 198.3,561.1 201.3,561.1 204.3,561.1 207.3,561.1 210.3,561.0 213.3,561.0 216.3,560.9 219.3,560.8 222.3,560.7 225.3,560.6 228.3,560.4 231.3,560.2 234.3,559.9 237.3,559.7 240.3,559.5 243.3,559.3 246.3,559.0 249.3,558.8 252.3,558.6 255.3,558.4 258.3,558.2 261.3,558.0 264.3,557.8 267.3,557.7 270.3,557.6 273.3,557.4 276.3,557.3 279.3,557.2 282.3,557.1 285.3,556.9 288.3,556.8 291.3,556.7 294.3,556.5 297.3,556.3 300.3,556.1 303.3,555.9 306.3,555.7 309.3,555.4 312.3,555.1 315.3,554.8 318.3,554.6 321.3,554.3 324.3,554.0 327.3,553.7 330.3,553.4 333.3,553.1 336.3,552.9 339.3,552.6 342.3,552.3 345.3,552.1 348.3,551.8 351.3,551.6 354.3,551.3 357.3,551.1 360.3,550.8 363.3,550.6 366.3,550.3 369.3,550.1 372.3,549.8 375.3,549.6 378.3,549.3 381.3,549.1 384.3,548.8 387.3,548.5 390.3,548.3 393.3,548.0 396.3,547.7 399.3,547.5 402.3,547.2 405.3,546.9 408.3,546.7 411.3,546.4 414.3,546.1 417.3,545.8 420.3,545.5 423.3,545.3 426.3,545.0 429.3,544.7 432.3,544.4 435.3,544.1 438.3,543.8 441.3,543.5 444.3,543.2 447.3,542.9 450.3,542.6 453.3,542.3 456.3,542.0 459.3,541.7 462.3,541.3 465.3,541.0 468.3,540.7 471.3,540.4 474.3,540.1 477.3,539.7 480.3,539.4 483.3,539.1 486.3,538.8 489.3,538.5 492.3,538.1 495.3,537.8 498.3,537.5 501.3,537.1 504.3,536.8 507.3,536.5 510.3,536.1 513.3,535.8 516.3,535.5 519.3,535.1 522.3,534.8 525.3,534.5 528.3,534.1 531.3,533.8 534.3,533.4 537.3,533.1 540.3,532.7 543.3,532.3 546.3,531.8 549.3,531.4 552.3,531.0 555.3,530.5 558.3,530.0 561.3,529.6 564.3,529.1 567.3,528.6 570.3,528.2 573.3,527.7 576.3,527.3 579.3,526.8 582.3,526.5 585.3,526.1 588.3,525.8 591.3,525.5 594.3,525.2 597.3,524.9 600.3,524.6 603.3,524.3 606.3,524.0 609.3,523.6 612.3,523.3 615.3,522.9 618.3,522.4 621.3,522.0 624.3,521.5 627.3,520.9 630.3,520.4 633.3,519.9 636.3,519.3 639.3,518.8 642.3,518.2 645.3,517.6 648.3,517.0 651.3,516.4 654.3,515.9 657.3,515.3 660.3,514.7" fill="none" stroke="#141414" stroke-width="1.8"/>
<polygon points="112.97,45.25 115.70,45.25 115.70,55.75 112.60,55.75 112.60,49.03 109.80,49.45 109.70,48.09 111.62,45.88" fill="#000"/>
<polygon points="130.97,50.25 133.70,50.25 133.70,60.75 130.60,60.75 130.60,54.03 127.80,54.45 127.70,53.09 129.62,50.88" fill="#000"/>
<path d="M151.1,75.8 L151.1,86.0 M151.1,76.1 L148.1,78.4" stroke="#201030" stroke-width="1.7" fill="none"/>
<path d="M168.6,71.0 L168.6,81.2 M168.6,71.3 L165.6,73.6" stroke="#201030" stroke-width="1.7" fill="none"/>
<path d="M186.1,71.8 L186.1,82.0 M186.1,72.1 L183.1,74.4" stroke="#201030" stroke-width="1.7" fill="none"/>
<polygon points="204.97,108.55 207.70,108.55 207.70,119.05 204.60,119.05 204.60,112.33 201.80,112.75 201.70,111.38 203.62,109.18" fill="#000"/>
<polygon points="222.97,71.15 225.70,71.15 225.70,81.65 222.60,81.65 222.60,74.93 219.80,75.35 219.70,73.98 221.62,71.78" fill="#000"/>
<path d="M242.3,81.0 L242.3,91.2 M242.3,81.3 L239.3,83.6" stroke="#201030" stroke-width="1.7" fill="none"/>
<polygon points="259.27,79.15 262.00,79.15 262.00,89.65 258.90,89.65 258.90,82.93 256.10,83.35 256.00,81.98 257.92,79.78" fill="#000"/>
<path d="M278.8,91.5 L278.8,101.7 M278.8,91.8 L275.8,94.1" stroke="#201030" stroke-width="1.7" fill="none"/>
<polygon points="294.97,112.35 297.70,112.35 297.70,122.85 294.60,122.85 294.60,116.13 291.80,116.55 291.70,115.18 293.62,112.98" fill="#000"/>
<polygon points="313.37,102.15 316.10,102.15 316.10,112.65 313.00,112.65 313.00,105.93 310.20,106.35 310.10,104.98 312.02,102.78" fill="#000"/>
<polygon points="330.67,90.05 333.40,90.05 333.40,100.55 330.30,100.55 330.30,93.83 327.50,94.25 327.40,92.88 329.32,90.68" fill="#000"/>
<polygon points="350.07,110.75 352.80,110.75 352.80,121.25 349.70,121.25 349.70,114.53 346.90,114.95 346.80,113.58 348.72,111.38" fill="#000"/>
<path d="M369.7,102.4 L369.7,112.6 M369.7,102.7 L366.7,105.0" stroke="#201030" stroke-width="1.7" fill="none"/>
<path d="M387.9,107.2 L387.9,117.4 M387.9,107.5 L384.9,109.8" stroke="#201030" stroke-width="1.7" fill="none"/>
<polygon points="404.27,125.05 407.00,125.05 407.00,135.55 403.90,135.55 403.90,128.83 401.10,129.25 401.00,127.89 402.92,125.68" fill="#000"/>
<path d="M424.2,104.7 L424.2,114.9 M424.2,105.0 L421.2,107.3" stroke="#201030" stroke-width="1.7" fill="none"/>
<polygon points="440.47,124.95 443.20,124.95 443.20,135.45 440.10,135.45 440.10,128.73 437.30,129.15 437.20,127.78 439.12,125.58" fill="#000"/>
<path d="M459.7,119.0 L459.7,129.2 M459.7,119.3 L456.7,121.6" stroke="#201030" stroke-width="1.7" fill="none"/>
<polygon points="477.87,101.75 480.60,101.75 480.60,112.25 477.50,112.25 477.50,105.53 474.70,105.95 474.60,104.58 476.52,102.38" fill="#000"/>
<path d="M497.4,108.3 L497.4,118.5 M497.4,108.6 L494.4,110.9" stroke="#201030" stroke-width="1.7" fill="none"/>
<polygon points="513.77,100.85 516.50,100.85 516.50,111.35 513.40,111.35 513.40,104.63 510.60,105.05 510.50,103.68 512.42,101.48" fill="#000"/>
<polygon points="532.07,126.35 534.80,126.35 534.80,136.85 531.70,136.85 531.70,130.13 528.90,130.55 528.80,129.19 530.72,126.98" fill="#000"/>
<path d="M551.4,115.8 L551.4,126.0 M551.4,116.1 L548.4,118.4" stroke="#201030" stroke-width="1.7" fill="none"/>
<path d="M569.1,118.3 L569.1,128.5 M569.1,118.6 L566.1,120.9" stroke="#201030" stroke-width="1.7" fill="none"/>
<polygon points="585.87,141.75 588.60,141.75 588.60,152.25 585.50,152.25 585.50,145.53 582.70,145.95 582.60,144.59 584.52,142.38" fill="#000"/>
<path d="M606.4,123.8 L606.4,134.0 M606.4,124.1 L603.4,126.4" stroke="#201030" stroke-width="1.7" fill="none"/>
<polygon points="623.07,150.75 625.80,150.75 625.80,161.25 622.70,161.25 622.70,154.53 619.90,154.95 619.80,153.59 621.72,151.38" fill="#000"/>
<polygon points="640.67,63.15 643.40,63.15 643.40,73.65 640.30,73.65 640.30,66.93 637.50,67.35 637.40,65.98 639.32,63.78" fill="#000"/>
<text class="s" x="113.3" y="549.7" font-size="15.3" font-weight="bold" text-anchor="middle" fill="#000">2</text>
<text class="s" x="131.4" y="546.0" font-size="15.3" font-weight="bold" text-anchor="middle" fill="#000">2</text>
<text class="s" x="149.2" y="521.3" font-size="15.3" font-weight="normal" text-anchor="middle" fill="#000">2</text>
<text class="s" x="167.6" y="525.0" font-size="15.3" font-weight="normal" text-anchor="middle" fill="#000">2</text>
<text class="s" x="185.7" y="524.8" font-size="15.3" font-weight="normal" text-anchor="middle" fill="#000">2</text>
<text class="s" x="204.9" y="504.9" font-size="15.3" font-weight="bold" text-anchor="middle" fill="#000">2</text>
<text class="s" x="222.9" y="532.0" font-size="15.3" font-weight="bold" text-anchor="middle" fill="#000">2</text>
<text class="s" x="240.8" y="523.8" font-size="15.3" font-weight="bold" text-anchor="middle" fill="#000">2</text>
<text class="s" x="259.0" y="523.3" font-size="15.3" font-weight="bold" text-anchor="middle" fill="#000">2</text>
<text class="s" x="277.0" y="509.3" font-size="15.3" font-weight="normal" text-anchor="middle" fill="#000">2</text>
<text class="s" x="294.6" y="505.8" font-size="15.3" font-weight="bold" text-anchor="middle" fill="#000">2</text>
<text class="s" x="312.9" y="511.2" font-size="15.3" font-weight="normal" text-anchor="middle" fill="#000">2</text>
<text class="s" x="331.1" y="518.9" font-size="15.3" font-weight="bold" text-anchor="middle" fill="#000">2</text>
<text class="s" x="350.6" y="497.0" font-size="15.3" font-weight="bold" text-anchor="middle" fill="#000">2</text>
<text class="s" x="368.7" y="504.6" font-size="15.3" font-weight="normal" text-anchor="middle" fill="#000">2</text>
<text class="s" x="386.5" y="513.9" font-size="15.3" font-weight="bold" text-anchor="middle" fill="#000">2</text>
<text class="s" x="404.6" y="509.7" font-size="15.3" font-weight="normal" text-anchor="middle" fill="#000">2</text>
<text class="s" x="423.0" y="508.3" font-size="15.3" font-weight="normal" text-anchor="middle" fill="#000">2</text>
<text class="s" x="441.1" y="495.8" font-size="15.3" font-weight="bold" text-anchor="middle" fill="#000">2</text>
<text class="s" x="458.6" y="509.5" font-size="15.3" font-weight="normal" text-anchor="middle" fill="#000">2</text>
<text class="s" x="477.9" y="518.6" font-size="15.3" font-weight="bold" text-anchor="middle" fill="#000">2</text>
<text class="s" x="496.0" y="521.2" font-size="15.3" font-weight="bold" text-anchor="middle" fill="#000">2</text>
<text class="s" x="514.1" y="515.5" font-size="15.3" font-weight="normal" text-anchor="middle" fill="#000">2</text>
<text class="s" x="531.9" y="500.8" font-size="15.3" font-weight="bold" text-anchor="middle" fill="#000">2</text>
<text class="s" x="550.3" y="523.8" font-size="15.3" font-weight="bold" text-anchor="middle" fill="#000">2</text>
<text class="s" x="568.4" y="524.9" font-size="15.3" font-weight="bold" text-anchor="middle" fill="#000">2</text>
<text class="s" x="585.7" y="521.6" font-size="15.3" font-weight="bold" text-anchor="middle" fill="#000">2</text>
<text class="s" x="605.5" y="511.9" font-size="15.3" font-weight="normal" text-anchor="middle" fill="#000">2</text>
<text class="s" x="623.8" y="490.8" font-size="15.3" font-weight="bold" text-anchor="middle" fill="#000">2</text>
<text class="s" x="641.8" y="553.6" font-size="15.3" font-weight="bold" text-anchor="middle" fill="#000">2</text>
<text class="r k" x="113.9" y="574.7" font-size="16" font-weight="bold" text-anchor="middle" fill="#000">3</text>
<text class="r k" x="131.7" y="574.7" font-size="16" font-weight="bold" text-anchor="middle" fill="#000">3</text>
<text class="r k" x="149.6" y="573.8" font-size="16" font-weight="bold" text-anchor="middle" fill="#000">3</text>
<text class="r k" x="167.6" y="573.8" font-size="16" font-weight="bold" text-anchor="middle" fill="#000">3</text>
<text class="r k" x="185.8" y="573.3" font-size="16" font-weight="bold" text-anchor="middle" fill="#000">3</text>
<text class="r k" x="204.7" y="556.3" font-size="16" font-weight="bold" text-anchor="middle" fill="#000">3</text>
<text class="r k" x="223.1" y="567.5" font-size="16" font-weight="bold" text-anchor="middle" fill="#000">3</text>
<text class="r k" x="240.9" y="565.4" font-size="16" font-weight="bold" text-anchor="middle" fill="#000">3</text>
<text class="r k" x="259.1" y="567.9" font-size="16" font-weight="bold" text-anchor="middle" fill="#000">3</text>
<text class="r k" x="277.4" y="568.6" font-size="16" font-weight="bold" text-anchor="middle" fill="#000">3</text>
<text class="r k" x="294.9" y="552.0" font-size="16" font-weight="bold" text-anchor="middle" fill="#000">3</text>
<text class="r k" x="313.0" y="557.3" font-size="16" font-weight="bold" text-anchor="middle" fill="#000">3</text>
<text class="r k" x="331.2" y="561.1" font-size="16" font-weight="bold" text-anchor="middle" fill="#000">3</text>
<text class="r k" x="351.0" y="562.3" font-size="16" font-weight="bold" text-anchor="middle" fill="#000">3</text>
<text class="r k" x="368.8" y="562.3" font-size="16" font-weight="bold" text-anchor="middle" fill="#000">3</text>
<text class="r k" x="386.9" y="549.3" font-size="16" font-weight="bold" text-anchor="middle" fill="#000">3</text>
<text class="r k" x="404.7" y="535.5" font-size="16" font-weight="bold" text-anchor="middle" fill="#000">3</text>
<text class="r k" x="422.9" y="557.4" font-size="16" font-weight="bold" text-anchor="middle" fill="#000">3</text>
<text class="r k" x="440.9" y="549.3" font-size="16" font-weight="bold" text-anchor="middle" fill="#000">3</text>
<text class="r k" x="459.3" y="541.7" font-size="16" font-weight="bold" text-anchor="middle" fill="#000">3</text>
<text class="r k" x="478.0" y="549.5" font-size="16" font-weight="bold" text-anchor="middle" fill="#000">3</text>
<text class="r k" x="496.5" y="539.9" font-size="16" font-weight="bold" text-anchor="middle" fill="#000">3</text>
<text class="r k" x="514.2" y="555.3" font-size="16" font-weight="bold" text-anchor="middle" fill="#000">3</text>
<text class="r k" x="532.3" y="543.3" font-size="16" font-weight="bold" text-anchor="middle" fill="#000">3</text>
<text class="r k" x="550.4" y="528.3" font-size="16" font-weight="bold" text-anchor="middle" fill="#000">3</text>
<text class="r k" x="568.5" y="525.3" font-size="16" font-weight="bold" text-anchor="middle" fill="#000">3</text>
<text class="r k" x="586.3" y="507.1" font-size="16" font-weight="bold" text-anchor="middle" fill="#000">3</text>
<text class="r" x="605.6" y="533.4" font-size="16" font-weight="bold" text-anchor="middle" fill="#000">3</text>
<text class="r" x="623.9" y="528.8" font-size="16" font-weight="bold" text-anchor="middle" fill="#000">3</text>
<text class="r k" x="641.9" y="553.6" font-size="16" font-weight="bold" text-anchor="middle" fill="#000">3</text>
<rect x="92.3" y="2.3" width="590" height="587.6" fill="none" stroke="#111" stroke-width="2"/>
<line x1="80" y1="568.0" x2="92.3" y2="568.0" stroke="#111" stroke-width="2"/>
<text class="s" transform="translate(64.7,568.0) rotate(-90) scale(1,1.28)" x="0" y="0" font-size="20" font-weight="bold" text-anchor="middle" fill="#000">0.0</text>
<line x1="80" y1="459.2" x2="92.3" y2="459.2" stroke="#111" stroke-width="2"/>
<text class="s" transform="translate(64.7,459.2) rotate(-90) scale(1,1.28)" x="0" y="0" font-size="20" font-weight="bold" text-anchor="middle" fill="#000">0.2</text>
<line x1="80" y1="350.4" x2="92.3" y2="350.4" stroke="#111" stroke-width="2"/>
<text class="s" transform="translate(64.7,350.4) rotate(-90) scale(1,1.28)" x="0" y="0" font-size="20" font-weight="bold" text-anchor="middle" fill="#000">0.4</text>
<line x1="80" y1="241.6" x2="92.3" y2="241.6" stroke="#111" stroke-width="2"/>
<text class="s" transform="translate(64.7,241.6) rotate(-90) scale(1,1.28)" x="0" y="0" font-size="20" font-weight="bold" text-anchor="middle" fill="#000">0.6</text>
<line x1="80" y1="132.8" x2="92.3" y2="132.8" stroke="#111" stroke-width="2"/>
<text class="s" transform="translate(64.7,132.8) rotate(-90) scale(1,1.28)" x="0" y="0" font-size="20" font-weight="bold" text-anchor="middle" fill="#000">0.8</text>
<line x1="80" y1="24.0" x2="92.3" y2="24.0" stroke="#111" stroke-width="2"/>
<g transform="translate(64.7,24.0) rotate(-90)"><polygon points="-7.34,-18.20 -5.40,-18.20 -5.40,0.00 -7.60,0.00 -7.60,-11.65 -10.90,-10.92 -11.00,-13.29 -8.75,-17.11" fill="#000"/><text class="s" transform="scale(1,1.28)" x="-2.2" y="0" font-size="20" font-weight="bold" fill="#000">.0</text></g>
<line x1="114.3" y1="589.9" x2="114.3" y2="602" stroke="#111" stroke-width="2"/>
<text class="r" x="114.3" y="635.3" font-size="23.1" font-weight="bold" text-anchor="middle" fill="#000" stroke="#000" stroke-width="0.5">40</text>
<line x1="205.3" y1="589.9" x2="205.3" y2="602" stroke="#111" stroke-width="2"/>
<text class="r" x="205.3" y="635.3" font-size="23.1" font-weight="bold" text-anchor="middle" fill="#000" stroke="#000" stroke-width="0.5">45</text>
<line x1="296.3" y1="589.9" x2="296.3" y2="602" stroke="#111" stroke-width="2"/>
<text class="r" x="296.3" y="635.3" font-size="23.1" font-weight="bold" text-anchor="middle" fill="#000" stroke="#000" stroke-width="0.5">50</text>
<line x1="387.3" y1="589.9" x2="387.3" y2="602" stroke="#111" stroke-width="2"/>
<text class="r" x="387.3" y="635.3" font-size="23.1" font-weight="bold" text-anchor="middle" fill="#000" stroke="#000" stroke-width="0.5">55</text>
<line x1="478.3" y1="589.9" x2="478.3" y2="602" stroke="#111" stroke-width="2"/>
<text class="r" x="478.3" y="635.3" font-size="23.1" font-weight="bold" text-anchor="middle" fill="#000" stroke="#000" stroke-width="0.5">60</text>
<line x1="569.3" y1="589.9" x2="569.3" y2="602" stroke="#111" stroke-width="2"/>
<text class="r" x="569.3" y="635.3" font-size="23.1" font-weight="bold" text-anchor="middle" fill="#000" stroke="#000" stroke-width="0.5">65</text>
<line x1="660.3" y1="589.9" x2="660.3" y2="602" stroke="#111" stroke-width="2"/>
<text class="r" x="660.3" y="635.3" font-size="23.1" font-weight="bold" text-anchor="middle" fill="#000" stroke="#000" stroke-width="0.5">70</text>
<text class="s" x="386" y="665.4" font-size="21" font-weight="bold" text-anchor="middle" fill="#000" stroke="#000" stroke-width="0.5">age</text>
<text class="s" transform="translate(19.4,293.6) rotate(-90) scale(1,1.25)" x="0" y="0" font-size="20.4" text-anchor="middle" fill="#000" stroke="#000" stroke-width="0.6">smoking stages prevalence</text>
<polygon points="539.33,21.10 542.50,21.10 542.50,35.90 538.90,35.90 538.90,26.43 534.90,27.02 534.80,25.10 537.50,21.99" fill="#000"/>
<text class="s" transform="translate(557.6,36) scale(0.9,1)" x="0" y="0" font-size="21" fill="#000" stroke="#000" stroke-width="1.2" letter-spacing="0.9">Non smoker</text>
<text class="s" x="539.6" y="60.8" font-size="21" text-anchor="middle" fill="#000" stroke="#000" stroke-width="1.0">2</text>
<text class="s" transform="translate(557.6,60.8) scale(0.9,1)" x="0" y="0" font-size="21" fill="#000" stroke="#000" stroke-width="1.2" letter-spacing="1.35">Smoker</text>
<text class="s" x="539.6" y="85.1" font-size="21" text-anchor="middle" fill="#000" stroke="#000" stroke-width="1.0">3</text>
<text class="s" transform="translate(557.6,85.1) scale(0.9,1)" x="0" y="0" font-size="21" fill="#000" stroke="#000" stroke-width="1.2" letter-spacing="1.05">Past smoker</text>
</svg></body></html>
